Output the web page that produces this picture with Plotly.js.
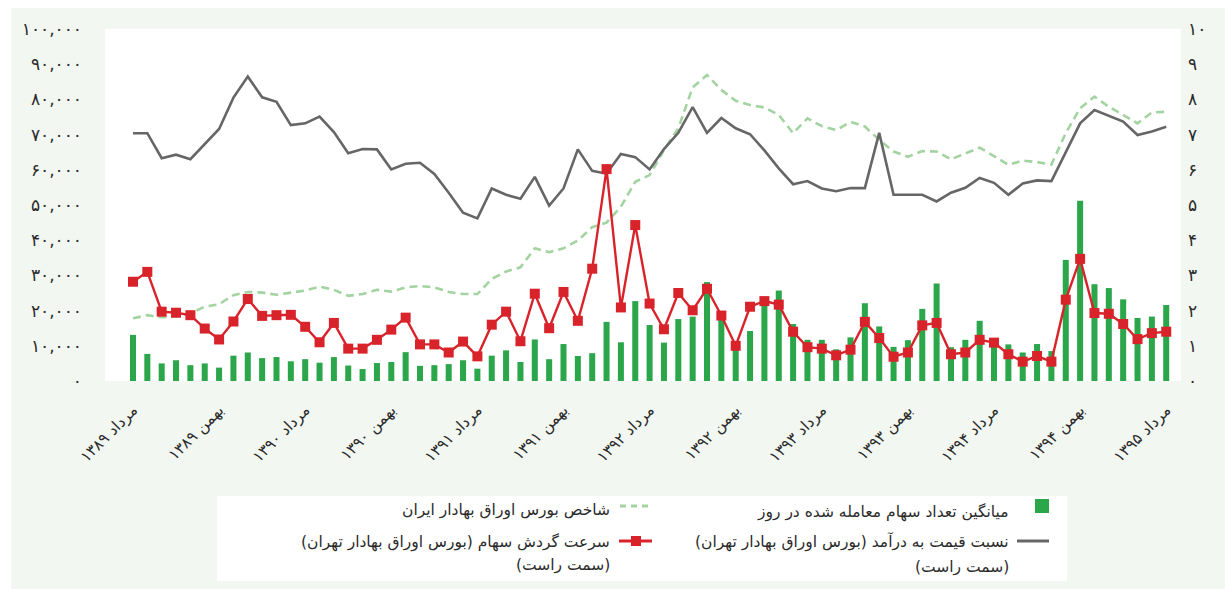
<!DOCTYPE html>
<html>
<head>
<meta charset="utf-8">
<script src="https://cdn.plot.ly/plotly-3.0.1.min.js"></script>
<style>html,body{margin:0;padding:0;background:#fff;}#chart{width:1225px;height:589px;}</style>
</head>
<body>
<div id="chart"></div>
<script>
// ---- data (monthly, مرداد ۱۳۸۹ .. مرداد ۱۳۹۵) ----
const tickLabels = ['مرداد ۱۳۸۹','بهمن ۱۳۸۹','مرداد ۱۳۹۰','بهمن ۱۳۹۰','مرداد ۱۳۹۱','بهمن ۱۳۹۱','مرداد ۱۳۹۲','بهمن ۱۳۹۲','مرداد ۱۳۹۳','بهمن ۱۳۹۳','مرداد ۱۳۹۴','بهمن ۱۳۹۴','مرداد ۱۳۹۵'];
const leftTickText = ['۰','۱۰,۰۰۰','۲۰,۰۰۰','۳۰,۰۰۰','۴۰,۰۰۰','۵۰,۰۰۰','۶۰,۰۰۰','۷۰,۰۰۰','۸۰,۰۰۰','۹۰,۰۰۰','۱۰۰,۰۰۰'];
const rightTickText = ['۰','۱','۲','۳','۴','۵','۶','۷','۸','۹','۱۰'];

const sharesTraded = [13100,7700,5000,5900,4500,5000,3800,7200,8100,6500,
  6800,5600,6200,5200,6800,4400,3400,5100,5400,8200,
  4300,4500,4800,5900,3500,7200,8700,5400,11800,6200,
  10500,7100,7900,16800,11000,22700,15900,10900,17600,18300,
  28100,17400,10000,14200,22800,25700,16200,11700,11700,9000,
  12400,22100,15500,9700,11600,20500,27700,9600,11700,17100,
  10700,10400,8100,10500,8500,34400,51200,27500,26400,23200,
  17900,18300,21600];
const tsePriceIndex = [17800,18700,18100,18300,19200,21100,21800,24400,25300,25100,
  24500,25100,25700,26800,25900,24200,24700,25900,25400,26600,
  27000,26600,25300,24700,24700,29000,31100,32300,37700,36600,
  37700,39900,43700,45000,49500,56600,58500,65600,71800,83400,
  86900,82700,79600,78400,77700,75600,70400,74600,72400,71300,
  73600,72300,68500,65200,63700,65300,65200,63000,64700,66300,
  63900,61400,62600,62200,61500,70400,77500,80800,77900,75600,
  73200,76300,76500];
const turnoverRate = [2.82,3.10,1.97,1.94,1.87,1.49,1.18,1.69,2.33,1.85,
  1.87,1.88,1.54,1.10,1.65,0.92,0.92,1.17,1.46,1.80,
  1.04,1.04,0.81,1.12,0.70,1.60,1.97,1.13,2.48,1.50,
  2.53,1.71,3.19,6.02,2.09,4.43,2.20,1.47,2.50,2.01,
  2.62,1.86,1.00,2.11,2.27,2.17,1.40,0.96,0.92,0.73,
  0.89,1.68,1.22,0.69,0.81,1.58,1.65,0.76,0.81,1.17,
  1.09,0.76,0.55,0.71,0.55,2.31,3.47,1.93,1.91,1.62,
  1.19,1.36,1.40];
const peRatio = [7.04,7.04,6.33,6.43,6.30,6.72,7.16,8.05,8.65,8.06,
  7.93,7.27,7.32,7.51,7.07,6.47,6.59,6.58,6.01,6.17,
  6.20,5.88,5.35,4.78,4.62,5.47,5.29,5.18,5.80,4.98,
  5.47,6.58,5.97,5.89,6.45,6.36,6.01,6.59,7.05,7.78,
  7.05,7.47,7.18,7.01,6.55,6.04,5.59,5.68,5.47,5.39,
  5.48,5.48,7.05,5.29,5.29,5.29,5.10,5.35,5.49,5.77,
  5.63,5.29,5.61,5.70,5.68,6.51,7.32,7.70,7.54,7.37,
  6.99,7.09,7.22];

const seriesNames = {
  shares: 'میانگین تعداد سهام معامله شده در روز',
  index: 'شاخص بورس اوراق بهادار ایران',
  turnover: 'سرعت گردش سهام (بورس اوراق بهادار تهران)',
  pe: 'نسبت قیمت به درآمد (بورس اوراق بهادار تهران)',
  rightSide: '(سمت راست)'
};

// ---- styles ----
const C_BAR = '#2ca64b', C_RED = '#d9232b', C_GREY = '#666666', C_DASH = '#a3d3a0';
const FONT = 'DejaVu Sans, sans-serif';
const TXT = '#2b2b2b';
const RLM = '\u200F';

const xIdx = sharesTraded.map((_, i) => i);
const step = 6;
const tickVals = tickLabels.map((_, k) => k * step);

// plot-area geometry (px) for placing the legend / frame in paper coords
const L = 105, T = 29, W = 1076, H = 352;
const PX = p => (p - L) / W;
const PY = p => (T + H - p) / H;

const traces = [
  {type:'bar', x:xIdx, y:sharesTraded, name:seriesNames.shares, marker:{color:C_BAR}, yaxis:'y', hoverinfo:'skip'},
  {type:'scatter', mode:'lines', x:xIdx, y:tsePriceIndex, name:seriesNames.index, line:{color:C_DASH, width:2.6, dash:'8px,5px'}, yaxis:'y', hoverinfo:'skip'},
  {type:'scatter', mode:'lines', x:xIdx, y:peRatio, name:seriesNames.pe, line:{color:C_GREY, width:2.6}, yaxis:'y2', hoverinfo:'skip'},
  {type:'scatter', mode:'lines+markers', x:xIdx, y:turnoverRate, name:seriesNames.turnover, line:{color:C_RED, width:2.4}, marker:{symbol:'square', size:10, color:C_RED}, yaxis:'y2', hoverinfo:'skip'}
];

const ann = (text, px, py) => ({
  text: text, xref:'paper', yref:'paper', x:PX(px), y:PY(py),
  xanchor:'right', yanchor:'middle', showarrow:false,
  font:{family:FONT, size:15.5, color:TXT}, align:'right'
});

const shapes = [
  {type:'rect', xref:'paper', yref:'paper', x0:PX(11), x1:PX(1225), y0:PY(589), y1:PY(8), fillcolor:'#f2f7f1', line:{width:0}, layer:'below'},
  {type:'rect', xref:'paper', yref:'paper', x0:0, x1:1, y0:0, y1:1, fillcolor:'#ffffff', line:{width:0}, layer:'below'},
  {type:'rect', xref:'paper', yref:'paper', x0:PX(217), x1:PX(1067), y0:PY(581), y1:PY(496), fillcolor:'#ffffff', line:{width:0}, layer:'below'},
  {type:'rect', xref:'paper', yref:'paper', x0:PX(1035), x1:PX(1049), y0:PY(513), y1:PY(499), fillcolor:C_BAR, line:{width:0}},
  {type:'line', xref:'paper', yref:'paper', x0:PX(1017), x1:PX(1049), y0:PY(541), y1:PY(541), line:{color:C_GREY, width:3}},
  {type:'line', xref:'paper', yref:'paper', x0:PX(620), x1:PX(652), y0:PY(506), y1:PY(506), line:{color:C_DASH, width:3, dash:'6px,5px'}},
  {type:'line', xref:'paper', yref:'paper', x0:PX(619), x1:PX(652), y0:PY(541), y1:PY(541), line:{color:C_RED, width:3}},
  {type:'rect', xref:'paper', yref:'paper', x0:PX(631), x1:PX(641), y0:PY(546), y1:PY(536), fillcolor:C_RED, line:{width:0}}
];

const annotations = [
  ann(RLM + seriesNames.shares + RLM, 1011, 512),
  ann(RLM + seriesNames.pe + RLM, 1011, 542),
  ann(RLM + seriesNames.rightSide + RLM, 1011, 567),
  ann(RLM + seriesNames.index + RLM, 612, 510),
  ann(RLM + seriesNames.turnover + RLM, 612, 542),
  ann(RLM + seriesNames.rightSide + RLM, 612, 565)
];

const layout = {
  width:1225, height:589,
  margin:{l:L, r:1225-L-W, t:T, b:589-T-H, pad:0},
  paper_bgcolor:'#ffffff', plot_bgcolor:'rgba(0,0,0,0)',
  showlegend:false, bargap:0.58,
  font:{family:FONT, color:TXT},
  xaxis:{range:[-1.95, 73.03], tickvals:tickVals, ticktext:tickLabels, tickangle:-45,
         ticks:'', showgrid:false, zeroline:false, showline:false,
         ticklabelstandoff:16, tickfont:{family:FONT, size:15.5, color:TXT}},
  yaxis:{range:[0,100000], tickvals:leftTickText.map((_, i) => i*10000), ticktext:leftTickText,
         ticks:'', showgrid:false, zeroline:false, showline:false,
         ticklabelstandoff:22, tickfont:{family:FONT, size:17, color:TXT}},
  yaxis2:{range:[0,10], overlaying:'y', side:'right', tickvals:rightTickText.map((_, i) => i), ticktext:rightTickText,
          ticks:'', showgrid:false, zeroline:false, showline:false,
          ticklabelstandoff:6, tickfont:{family:FONT, size:17, color:TXT}},
  shapes:shapes, annotations:annotations
};

Plotly.newPlot('chart', traces, layout, {staticPlot:true, displayModeBar:false});
</script>
</body>
</html>
